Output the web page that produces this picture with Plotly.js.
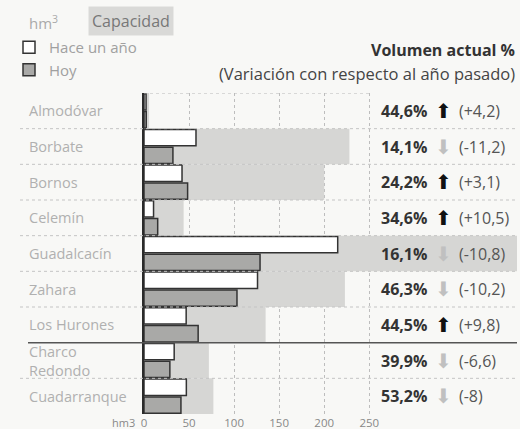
<!DOCTYPE html>
<html><head><meta charset="utf-8">
<script src="https://cdn.plot.ly/plotly-3.0.1.min.js"></script>
<style>body{margin:0;background:#f8f8f6}</style></head>
<body><div id="chart" style="width:520px;height:429px"></div>
<script>
const categories = ["Almodóvar","Borbate","Bornos","Celemín","Guadalcacín","Zahara","Los Hurones","Charco Redondo","Cuadarranque"];
const categoryLabels = ["Almodóvar","Borbate","Bornos","Celemín","Guadalcacín","Zahara","Los Hurones","Charco<br>Redondo","Cuadarranque"];
const capacity = [5.6, 228, 200, 44, 800, 223, 135, 72, 77];
const lastYear = [2.3, 57.7, 42.2, 10.6, 215, 126, 46.8, 33.5, 47];
const today = [2.5, 32.1, 48.4, 15.2, 128.8, 103.2, 60.1, 28.7, 41];
const volumePct = ["44,6%","14,1%","24,2%","34,6%","16,1%","46,3%","44,5%","39,9%","53,2%"];
const change = ["+4,2","-11,2","+3,1","+10,5","-10,8","-10,2","+9,8","-6,6","-8"];
const xTicks = [0, 50, 100, 150, 200, 250];

const FONT = "Open Sans, Noto Sans, sans-serif";
const outline = {color: "#333", width: 1.5};

const traces = [
  {type: "bar", orientation: "h", y: categories, x: capacity, width: 1, offset: -0.5,
   marker: {color: "#d6d6d4", line: {width: 0}}, showlegend: false, hoverinfo: "skip", name: "Capacidad"},
  {type: "bar", orientation: "h", y: categories, x: lastYear, width: 0.46, offset: -0.48,
   marker: {color: "#ffffff", line: outline}, name: "Hace un año"},
  {type: "bar", orientation: "h", y: categories, x: today, width: 0.46, offset: 0.02,
   marker: {color: "#a9a9a7", line: outline}, name: "Hoy"}
];

const L = 144, R = 3, T = 93, B = 15, W = 520, H = 429;
const pw = W - L - R, ph = H - T - B;
const px = v => (v - L) / pw;         // pixel x -> paper
const py = v => (H - B - v) / ph;     // pixel y -> paper

const shapes = [];
for (let i = 0; i < categories.length - 1; i++) {
  if (i === 6) {
    shapes.push({type: "line", xref: "paper", yref: "y", x0: px(28), x1: 1, y0: i + 0.5, y1: i + 0.5,
      line: {color: "#555", width: 1.5}});
  } else {
    shapes.push({type: "line", xref: "paper", yref: "y", x0: px(20), x1: 1, y0: i + 0.5, y1: i + 0.5,
      line: {color: "#c4c4c4", width: 1, dash: "dot"}});
  }
}
shapes.push({type: "line", xref: "x", yref: "y", x0: 0, x1: 250, y0: -0.5, y1: -0.5,
  line: {color: "#b8b8b8", width: 1, dash: "dot"}});

const annotations = [];
categories.forEach((c, i) => {
  annotations.push({xref: "paper", yref: "y", x: px(27), y: c, xanchor: "left", yanchor: "middle",
    text: categoryLabels[i], showarrow: false, align: "left",
    font: {family: FONT, size: 14.5, color: "#b0b0b0"}});
  annotations.push({xref: "x", yref: "y", x: 261, y: c, xanchor: "left", yanchor: "middle",
    text: "<b>" + volumePct[i] + "</b>", showarrow: false,
    font: {family: FONT, size: 16, color: "#333"}});
  const up = change[i].startsWith("+");
  annotations.push({xref: "x", yref: "y", x: 332, y: c, xanchor: "center", yanchor: "middle",
    text: up ? "⬆" : "⬇", showarrow: false,
    font: {family: "DejaVu Sans", size: 20, color: up ? "#111" : "#c0c0c0"}});
  annotations.push({xref: "x", yref: "y", x: 347, y: c, xanchor: "left", yanchor: "middle",
    text: "(" + change[i] + ")", showarrow: false,
    font: {family: FONT, size: 16, color: "#555"}});
});
annotations.push({xref: "paper", yref: "paper", x: px(137), y: py(422), xanchor: "right", yanchor: "middle",
  text: "hm3", showarrow: false, font: {family: FONT, size: 11, color: "#888"}});
annotations.push({xref: "paper", yref: "paper", x: px(27), y: py(22), xanchor: "left", yanchor: "middle",
  text: "hm<sup>3</sup>", showarrow: false, font: {family: FONT, size: 15, color: "#aaa"}});
annotations.push({xref: "paper", yref: "paper", x: px(88), y: py(21), xanchor: "left", yanchor: "middle",
  text: "Capacidad", showarrow: false, bgcolor: "#d9d9d7", borderpad: 3,
  font: {family: FONT, size: 16, color: "#777"}});
annotations.push({xref: "paper", yref: "paper", x: 1, y: py(50), xanchor: "right", yanchor: "middle",
  text: "<b>Volumen actual %</b>", showarrow: false, font: {family: FONT, size: 16, color: "#333"}});
annotations.push({xref: "paper", yref: "paper", x: 1, y: py(73), xanchor: "right", yanchor: "middle",
  text: "(Variación con respecto al año pasado)", showarrow: false, font: {family: FONT, size: 16.5, color: "#444"}});

const layout = {
  width: W, height: H,
  margin: {l: L, r: R, t: T, b: B},
  paper_bgcolor: "#f8f8f6", plot_bgcolor: "rgba(0,0,0,0)",
  barmode: "overlay",
  font: {family: FONT},
  xaxis: {range: [0, 414], tickvals: xTicks, ticktext: xTicks.map(String), showgrid: true,
    gridcolor: "#bdbdbd", griddash: "dot", gridwidth: 1, zeroline: false, ticks: "",
    tickfont: {family: FONT, size: 11.5, color: "#888"}, fixedrange: true},
  yaxis: {type: "category", categoryarray: categories, range: [8.5, -0.5], showticklabels: false,
    showgrid: false, zeroline: false, showline: true, linecolor: "#2a2a2a", linewidth: 2, ticks: "", fixedrange: true},
  showlegend: true,
  legend: {x: px(9), y: py(31), xanchor: "left", yanchor: "top", traceorder: "normal",
    bgcolor: "rgba(0,0,0,0)", font: {family: FONT, size: 15, color: "#a0a0a0"}, itemwidth: 30,
    tracegroupgap: 0},
  shapes: shapes,
  annotations: annotations
};

Plotly.newPlot("chart", traces, layout, {displayModeBar: false, staticPlot: true});
</script></body></html>
